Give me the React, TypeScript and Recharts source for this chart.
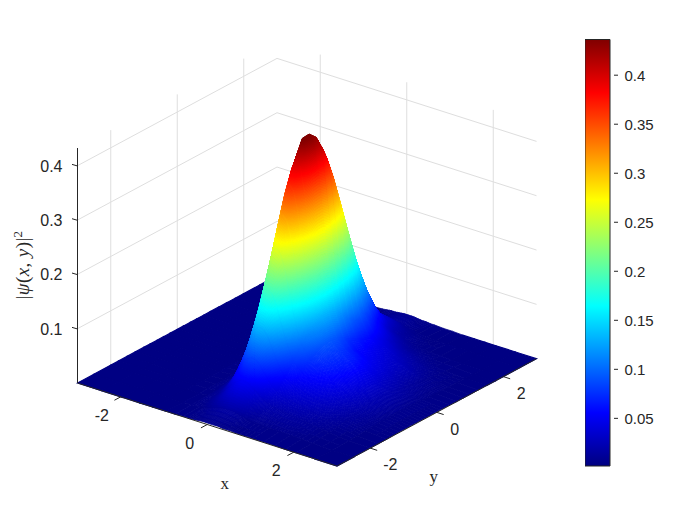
import { Bar, BarChart, Scatter, ScatterChart, XAxis, YAxis } from "recharts";

// grid positions of the surface, finer around the ridge
const xGrid = [-3, -2.45, -1.95, -1.55, -1.25, -0.95, -0.75, -0.55, -0.45, -0.35, -0.25, -0.15, -0.05, 0.05, 0.15, 0.25, 0.35, 0.45, 0.55, 0.65, 0.85, 1.05, 1.3, 1.55, 1.8, 2.05, 2.5, 3];
const yGrid = [-3, -2.5, -2, -1.75, -1.5, -1.25, -1, -0.8, -0.6, -0.4, -0.2, 0, 0.2, 0.4, 0.6, 0.8, 1, 1.25, 1.5, 1.75, 2, 2.5, 3];

// |psi|^2, one row per yGrid entry
const zRows = [
  [.003, .003, .003, .003, .003, .003, .003, .004, .004, .004, .005, .006, .006, .006, .006, .006, .005, .005, .005, .004, .004, .004, .004, .004, .003, .003, .003, .003],
  [.003, .003, .003, .003, .003, .003, .004, .005, .007, .009, .012, .014, .016, .017, .017, .016, .014, .012, .010, .009, .008, .007, .007, .006, .005, .004, .003, .003],
  [.003, .003, .003, .003, .003, .003, .005, .011, .017, .024, .033, .042, .049, .053, .052, .047, .041, .034, .028, .024, .020, .018, .016, .013, .010, .007, .004, .003],
  [.003, .003, .003, .003, .003, .004, .006, .016, .026, .039, .054, .069, .081, .086, .085, .078, .066, .055, .045, .038, .031, .028, .024, .019, .014, .010, .005, .003],
  [.003, .003, .003, .003, .003, .004, .008, .024, .040, .060, .084, .108, .126, .135, .132, .121, .102, .084, .068, .056, .045, .040, .034, .027, .019, .013, .006, .003],
  [.003, .003, .003, .003, .003, .004, .011, .034, .056, .086, .121, .155, .182, .194, .190, .172, .145, .118, .095, .077, .060, .054, .046, .036, .025, .016, .007, .004],
  [.003, .003, .003, .003, .003, .005, .014, .045, .075, .116, .164, .210, .246, .263, .257, .232, .194, .156, .124, .099, .076, .066, .056, .044, .031, .020, .008, .004],
  [.003, .003, .003, .003, .003, .005, .016, .054, .091, .140, .198, .255, .298, .318, .310, .279, .233, .185, .145, .115, .085, .074, .063, .049, .034, .022, .008, .004],
  [.003, .003, .003, .003, .003, .006, .018, .062, .105, .163, .231, .297, .347, .369, .359, .322, .267, .210, .163, .127, .092, .078, .066, .052, .036, .023, .009, .004],
  [.003, .003, .003, .003, .003, .006, .020, .069, .117, .181, .256, .329, .385, .409, .397, .355, .292, .228, .174, .134, .093, .079, .067, .052, .036, .023, .009, .004],
  [.003, .003, .003, .003, .003, .006, .021, .073, .124, .193, .273, .351, .410, .439, .421, .375, .308, .237, .179, .134, .090, .075, .063, .049, .034, .022, .008, .004],
  [.003, .003, .003, .003, .003, .006, .021, .074, .127, .196, .278, .357, .416, .440, .427, .378, .309, .236, .175, .129, .083, .067, .057, .044, .031, .020, .008, .004],
  [.003, .003, .003, .003, .003, .006, .021, .072, .124, .191, .271, .348, .406, .428, .415, .366, .297, .225, .164, .118, .073, .058, .050, .040, .028, .017, .007, .004],
  [.003, .003, .003, .003, .003, .006, .019, .068, .115, .179, .253, .324, .378, .400, .385, .339, .273, .205, .148, .104, .068, .055, .045, .035, .024, .015, .006, .004],
  [.003, .003, .003, .003, .003, .005, .018, .061, .103, .160, .226, .290, .337, .357, .342, .300, .242, .180, .128, .092, .062, .050, .040, .031, .022, .013, .005, .003],
  [.003, .003, .003, .003, .003, .005, .015, .052, .089, .137, .193, .247, .288, .304, .291, .255, .204, .151, .110, .085, .058, .045, .035, .028, .020, .011, .005, .003],
  [.003, .003, .003, .003, .003, .005, .013, .043, .073, .112, .158, .203, .236, .248, .238, .208, .166, .122, .090, .075, .050, .040, .030, .022, .015, .009, .004, .003],
  [.003, .003, .003, .003, .003, .004, .010, .032, .054, .083, .116, .149, .172, .182, .174, .151, .120, .088, .070, .058, .040, .030, .022, .016, .011, .007, .004, .003],
  [.003, .003, .003, .003, .003, .004, .008, .023, .038, .058, .081, .103, .119, .125, .120, .104, .083, .061, .050, .042, .028, .020, .015, .010, .007, .005, .003, .003],
  [.003, .003, .003, .003, .003, .004, .006, .016, .025, .037, .052, .066, .076, .080, .076, .066, .053, .039, .032, .027, .018, .012, .009, .006, .005, .004, .003, .003],
  [.003, .003, .003, .003, .003, .003, .005, .010, .016, .023, .032, .040, .046, .048, .046, .040, .032, .024, .018, .016, .010, .007, .005, .004, .003, .003, .003, .003],
  [.003, .003, .003, .003, .003, .003, .004, .005, .007, .009, .011, .014, .015, .016, .015, .014, .011, .009, .007, .005, .004, .003, .003, .003, .003, .003, .003, .003],
  [.003, .003, .003, .003, .003, .003, .003, .004, .005, .006, .006, .007, .008, .008, .008, .007, .006, .006, .005, .005, .004, .004, .003, .003, .003, .003, .003, .003],
];

const xTicks = [-2, 0, 2];
const yTicks = [-2, 0, 2];
const zTicks = [0.1, 0.2, 0.3, 0.4];
const colorbarTicks = [0.05, 0.1, 0.15, 0.2, 0.25, 0.3, 0.35, 0.4];
const colorbarValues = [{ name: "cb", top: 0.4364 }];
const cMin = 0.0014;
const cMax = 0.4364;
const zTop = 0.4325;
const jetStops = [
  [0, "rgb(0,0,128)"],
  [0.125, "rgb(0,0,255)"],
  [0.375, "rgb(0,255,255)"],
  [0.625, "rgb(255,255,0)"],
  [0.875, "rgb(255,0,0)"],
  [1, "rgb(128,0,0)"],
] as const;

const INK = "#262626";
const GRID = "#dedede";
const SANS = "'Liberation Sans', Arial, sans-serif";
const SERIF = "'Liberation Serif', 'Times New Roman', serif";

// view used for the 3D box, screen units
const projX = (x: number, y: number) => 77.5 + ((x + 3) / 6) * 259.5 + ((y + 3) / 6) * 199.5;
const projY = (x: number, y: number, z: number) => 383 + ((x + 3) / 6) * 83 - ((y + 3) / 6) * 107.3 - z * 543.3;

const clamp01 = (v: number) => Math.max(0, Math.min(1, v));
function jet(z: number) {
  const t = clamp01((z - cMin) / (cMax - cMin));
  const c = (k: number) => Math.round(255 * clamp01(1.5 - Math.abs(4 * t - k)));
  return `rgb(${c(3)},${c(2)},${c(1)})`;
}

type Pt = [number, number];
interface Quad {
  sx: number;
  sy: number;
  pts: Pt[];
  zs: number[];
}
interface Seg {
  sx: number;
  sy: number;
  ex: number;
  ey: number;
}

// back to front, so later cells paint over earlier ones
const quads: Quad[] = [];
for (let i = 0; i < xGrid.length - 1; i++) {
  for (let j = yGrid.length - 2; j >= 0; j--) {
    const corners: [number, number][] = [[i, j], [i + 1, j], [i + 1, j + 1], [i, j + 1]];
    const zs = corners.map(([a, b]) => zRows[b][a]);
    const pts = corners.map(([a, b]): Pt => [projX(xGrid[a], yGrid[b]), projY(xGrid[a], yGrid[b], zRows[b][a] - 0.003)]);
    quads.push({ sx: pts[0][0], sy: pts[0][1], pts, zs });
  }
}

const seg = (x0: number, y0: number, z0: number, x1: number, y1: number, z1: number): Seg => ({
  sx: projX(x0, y0),
  sy: projY(x0, y0, z0),
  ex: projX(x1, y1),
  ey: projY(x1, y1, z1),
});

const gridSegs: Seg[] = [
  ...zTicks.flatMap((z) => [seg(-3, -3, z, -3, 3, z), seg(-3, 3, z, 3, 3, z)]),
  ...yTicks.map((y) => seg(-3, y, 0, -3, y, zTop)),
  ...xTicks.map((x) => seg(x, 3, 0, x, 3, zTop)),
];
const axisSegs: Seg[] = [
  seg(-3, -3, 0, -3, -3, zTop),
  seg(-3, -3, 0, 3, -3, 0),
  seg(3, -3, 0, 3, 3, 0),
  ...xTicks.map((x) => seg(x, -3, 0, x, -3.19, 0)),
  ...yTicks.map((y) => seg(3, y, 0, 3.16, y, 0)),
];

const xTickLabels = xTicks.map((x) => ({ sx: projX(x, -3), sy: projY(x, -3, 0), text: String(x), dx: x < 0 ? -19 : -17.5, dy: 18.5 }));
const yTickLabels = yTicks.map((y) => ({ sx: projX(3, y), sy: projY(3, y, 0), text: String(y), dx: y < 0 ? 20 : 18, dy: 16.5 }));
const tickLabels = [...xTickLabels, ...yTickLabels];
const axisNames = [
  { sx: projX(0, -3), sy: projY(0, -3, 0), text: "x", dx: 17.5, dy: 60.5 },
  { sx: projX(3, 0), sy: projY(3, 0, 0), text: "y", dx: -3, dy: 65.5 },
];
const zNameAnchor = [{ sx: 77.5, sy: 265 }];
const zTickPoints = zTicks.map((z) => ({ sx: 77.5, z }));

function CellShape(props: any) {
  const { cx, cy, payload } = props;
  const q: Quad = payload;
  const ox = cx - q.sx;
  const oy = cy - q.sy;
  const range = Math.max(...q.zs) - Math.min(...q.zs);
  const n = Math.max(1, Math.min(14, Math.ceil(range / 0.003)));
  const at = (u: number, v: number, vals: number[]) =>
    (1 - u) * (1 - v) * vals[0] + u * (1 - v) * vals[1] + u * v * vals[2] + (1 - u) * v * vals[3];
  const xs = q.pts.map((p) => p[0]);
  const ys = q.pts.map((p) => p[1]);
  const cells = [];
  for (let a = 0; a < n; a++) {
    for (let b = 0; b < n; b++) {
      const u0 = a / n;
      const u1 = (a + 1) / n;
      const v0 = b / n;
      const v1 = (b + 1) / n;
      const points = [
        [u0, v0],
        [u1, v0],
        [u1, v1],
        [u0, v1],
      ]
        .map(([u, v]) => `${(at(u, v, xs) + ox).toFixed(2)},${(at(u, v, ys) + oy).toFixed(2)}`)
        .join(" ");
      const color = jet(at((u0 + u1) / 2, (v0 + v1) / 2, q.zs));
      cells.push(<polygon key={`${a}-${b}`} points={points} fill={color} stroke={color} strokeWidth={range < 0.0005 ? 1.2 : 0.8} />);
    }
  }
  return <g>{cells}</g>;
}

const segShape = (stroke: string, width: number) => (props: any) => {
  const { cx, cy, payload } = props;
  return (
    <line
      x1={cx}
      y1={cy}
      x2={cx + payload.ex - payload.sx}
      y2={cy + payload.ey - payload.sy}
      stroke={stroke}
      strokeWidth={width}
    />
  );
};

function TickLabelShape(props: any) {
  const { cx, cy, payload } = props;
  return (
    <text x={cx + payload.dx} y={cy + payload.dy} dy="0.36em" textAnchor="middle" fontFamily={SANS} fontSize={16} fill={INK}>
      {payload.text}
    </text>
  );
}

function AxisNameShape(props: any) {
  const { cx, cy, payload } = props;
  return (
    <text x={cx + payload.dx} y={cy + payload.dy} dy="0.25em" textAnchor="middle" fontFamily={SERIF} fontSize={17} fill={INK}>
      {payload.text}
    </text>
  );
}

function ZNameShape(props: any) {
  const { cx, cy } = props;
  const x = cx - 48.5;
  return (
    <text x={x} y={cy} transform={`rotate(-90 ${x} ${cy})`} textAnchor="middle" fontFamily={SERIF} fontSize={19} letterSpacing={0.4} fill={INK}>
      |<tspan fontStyle="italic">ψ</tspan>(<tspan fontStyle="italic">x</tspan>, <tspan fontStyle="italic">y</tspan>)|
      <tspan fontSize={13} dy={-7}>2</tspan>
    </text>
  );
}

// z ticks sit on the left edge of the box, slanted along the floor
function ZTickShape(props: any) {
  const { cx, cy, payload } = props;
  return (
    <g>
      <line x1={cx - 5.5} y1={cy - 1.6} x2={cx} y2={cy} stroke={INK} strokeWidth={1} />
      <text x={cx - 15} y={cy} dy="0.36em" textAnchor="end" fontFamily={SANS} fontSize={16} fill={INK}>
        {payload.z}
      </text>
    </g>
  );
}

function ColorbarTick(props: any) {
  const { x, y, payload } = props;
  return (
    <g>
      <line x1={x - 4} y1={y} x2={x} y2={y} stroke={INK} strokeWidth={1} />
      <text x={x + 6.5} y={y} dy="0.36em" textAnchor="start" fontFamily={SANS} fontSize={15} fill={INK}>
        {payload.value}
      </text>
    </g>
  );
}

export default function App() {
  return (
    <div style={{ position: "absolute", left: 0, top: 0, width: 700, height: 525, background: "#fff" }}>
      <div style={{ position: "absolute", left: 0, top: 0 }}>
        <ScatterChart width={700} height={525} margin={{ top: 0, right: 0, bottom: 0, left: 0 }}>
          <XAxis type="number" dataKey="sx" domain={[77.5, 700]} hide />
          <YAxis yAxisId="px" type="number" dataKey="sy" domain={[0, 525]} reversed hide />
          <YAxis
            yAxisId="z"
            type="number"
            dataKey="z"
            width={77.5}
            domain={[(383.3 - 525) / 543.3, 383.3 / 543.3]}
            ticks={zTicks}
            axisLine={false}
            tickLine={false}
            tick={false}
          />
          <Scatter yAxisId="px" data={gridSegs} shape={segShape(GRID, 1)} isAnimationActive={false} />
          <Scatter yAxisId="px" data={quads} shape={CellShape} isAnimationActive={false} />
          <Scatter yAxisId="px" data={axisSegs} shape={segShape(INK, 1)} isAnimationActive={false} />
          <Scatter yAxisId="px" data={tickLabels} shape={TickLabelShape} isAnimationActive={false} />
          <Scatter yAxisId="px" data={axisNames} shape={AxisNameShape} isAnimationActive={false} />
          <Scatter yAxisId="px" data={zNameAnchor} shape={ZNameShape} isAnimationActive={false} />
          <Scatter yAxisId="z" data={zTickPoints} shape={ZTickShape} isAnimationActive={false} />
        </ScatterChart>
      </div>
      <div style={{ position: "absolute", left: 584.5, top: 0 }}>
        <BarChart
          width={100}
          height={525}
          data={colorbarValues}
          margin={{ top: 39.5, right: 0, bottom: 59, left: 0 }}
          barCategoryGap={0}
        >
          <defs>
            <linearGradient id="jetFill" x1="0" y1="1" x2="0" y2="0">
              {jetStops.map(([offset, color]) => (
                <stop key={offset} offset={offset} stopColor={color} />
              ))}
            </linearGradient>
          </defs>
          <XAxis dataKey="name" type="category" hide />
          <YAxis
            orientation="right"
            type="number"
            width={75}
            domain={[cMin, cMax]}
            ticks={colorbarTicks}
            axisLine={false}
            tickLine={false}
            tick={ColorbarTick}
          />
          <Bar dataKey="top" fill="url(#jetFill)" stroke={INK} strokeWidth={1} isAnimationActive={false} />
        </BarChart>
      </div>
    </div>
  );
}
